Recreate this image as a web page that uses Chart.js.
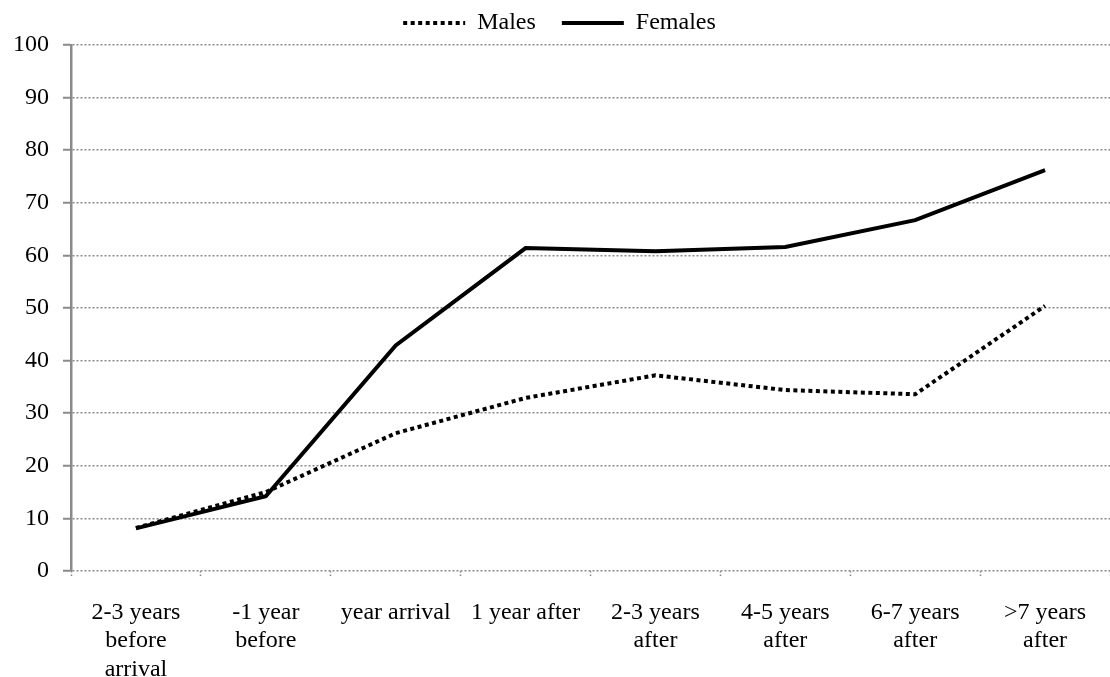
<!DOCTYPE html>
<html>
<head>
<meta charset="utf-8">
<script src="https://cdn.jsdelivr.net/npm/chart.js@4.4.1/dist/chart.umd.min.js"></script>
<style>
  html, body { margin: 0; padding: 0; background: #fff; }
  #wrap { width: 1110px; height: 677px; }
</style>
</head>
<body>
<div id="wrap"><canvas id="chart"></canvas></div>
<script>
// categories (multi-line labels as in the original)
var categories = [
    ['2-3 years', 'before', 'arrival'],
    ['-1 year', 'before'],
    ['year arrival'],
    ['1 year after'],
    ['2-3 years', 'after'],
    ['4-5 years', 'after'],
    ['6-7 years', 'after'],
    ['>7 years', 'after']
];
var males = [8.2, 15.0, 26.2, 32.9, 37.2, 34.4, 33.6, 50.4];
var females = [8.1, 14.2, 42.9, 61.4, 60.8, 61.6, 66.7, 76.2];
var yTicks = [0, 10, 20, 30, 40, 50, 60, 70, 80, 90, 100];

window.onload = function () {
    var font = { family: '"Liberation Serif", "Times New Roman", serif', size: 24 };

    var config = {
        type: 'line',
        data: {
            labels: categories,
            datasets: [{
                label: 'Males',
                data: males,
                borderColor: '#000',
                backgroundColor: '#000',
                borderWidth: 4,
                borderDash: [4, 3.5],
                borderCapStyle: 'butt',
                pointRadius: 0,
                tension: 0
            }, {
                label: 'Females',
                data: females,
                borderColor: '#000',
                backgroundColor: '#000',
                borderWidth: 4,
                pointRadius: 0,
                tension: 0
            }]
        },
        options: {
            responsive: true,
            maintainAspectRatio: false,
            animation: false,
            layout: { padding: { top: -15, right: -9, left: 0, bottom: 0 } },
            plugins: {
                tooltip: { enabled: false },
                legend: {
                    position: 'top',
                    labels: {
                        color: '#000',
                        font: font,
                        boxWidth: 62,
                        boxHeight: 0,
                        padding: 26
                    }
                }
            },
            scales: {
                x: {
                    offset: true,
                    grid: {
                        offset: true,
                        drawOnChartArea: false,
                        tickLength: 7,
                        tickColor: '#888',
                        tickWidth: 1.5,
                        tickBorderDash: [1.5, 2]
                    },
                    border: { display: false },
                    ticks: {
                        color: '#000',
                        font: { family: font.family, size: 24, lineHeight: 1.2 },
                        padding: 20,
                        maxRotation: 0,
                        autoSkip: false
                    },
                    afterFit: function (scale) { scale.height = 106; }
                },
                y: {
                    min: 0,
                    max: 100,
                    afterBuildTicks: function (scale) {
                        scale.ticks = yTicks.map(function (v) { return { value: v }; });
                    },
                    grid: {
                        color: '#8a8a8a',
                        lineWidth: 1.5,
                        tickLength: 8,
                        tickColor: '#8a8a8a',
                        tickWidth: 2
                    },
                    border: {
                        display: true,
                        color: '#8a8a8a',
                        width: 2.5,
                        dash: [2, 2]
                    },
                    ticks: {
                        color: '#000',
                        font: font,
                        padding: 14
                    },
                    afterFit: function (scale) { scale.width = 71; }
                }
            }
        }
    };

    var ctx = document.getElementById('chart').getContext('2d');
    window.myLine = new Chart(ctx, config);
};
</script>
</body>
</html>
